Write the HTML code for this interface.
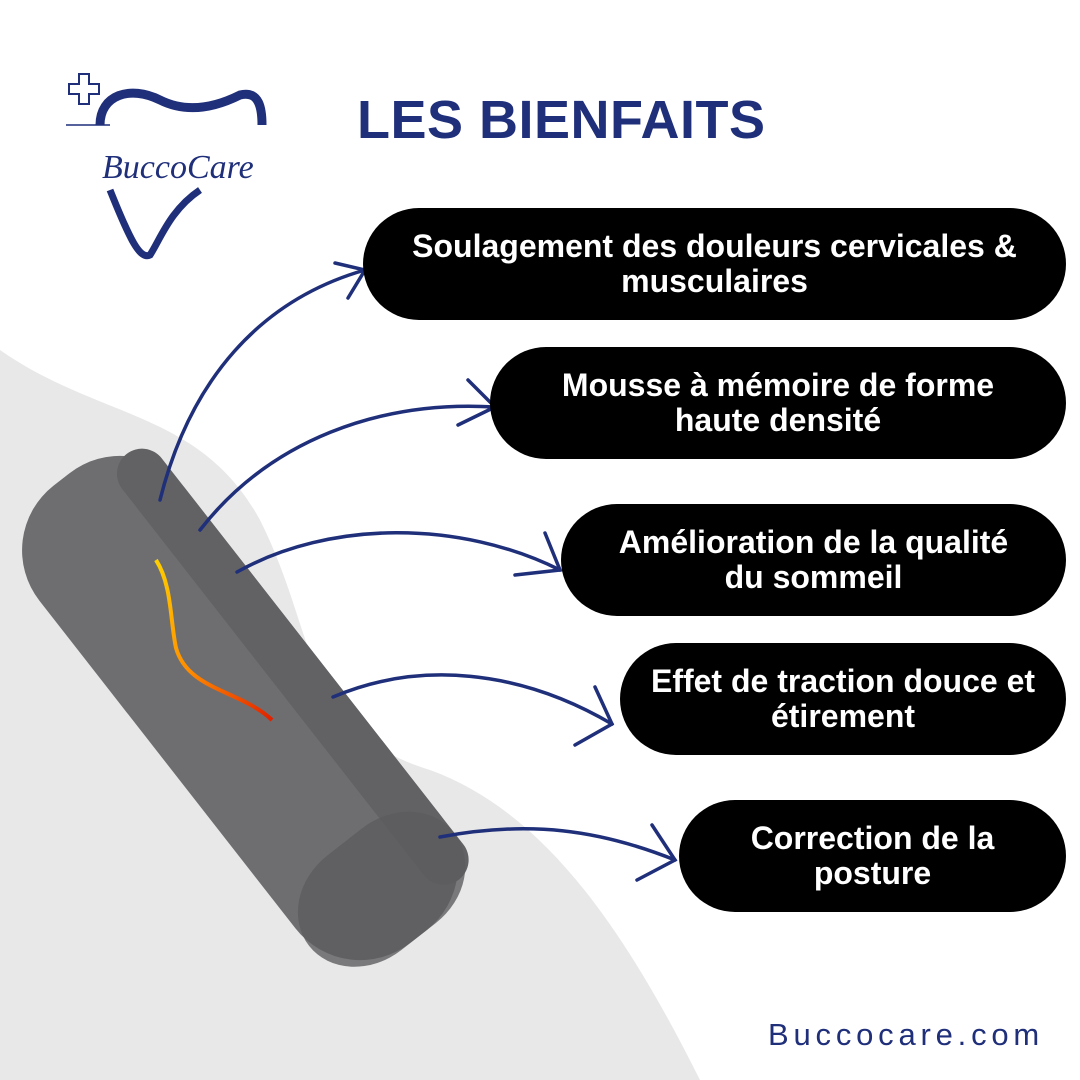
<!DOCTYPE html>
<html><head><meta charset="utf-8"><style>
body{margin:0;width:1080px;height:1080px;overflow:hidden;background:#fff;font-family:"Liberation Sans",sans-serif;position:relative}
.pill{position:absolute;background:#000;color:#fff;border-radius:56px;height:112px;display:flex;align-items:center;justify-content:center;text-align:center;font-weight:bold;font-size:32px;line-height:35px}
</style></head><body>
<svg width="1080" height="1080" style="position:absolute;left:0;top:0">
<defs><linearGradient id="og" x1="0" y1="0" x2="1" y2="1"><stop offset="0" stop-color="#ffd000"/><stop offset="0.5" stop-color="#ff8a00"/><stop offset="1" stop-color="#e02000"/></linearGradient></defs>
<path d="M0,350 C100,420 200,410 260,520 C320,640 300,730 430,770 C540,810 620,920 700,1080 L0,1080 Z" fill="#e8e8e8"/>
<g transform="translate(240,708) rotate(52)">
<rect x="-290" y="-92" width="580" height="184" rx="82" fill="#6e6e71"/>
<rect x="-270" y="-92" width="540" height="50" rx="25" fill="#626265"/>
<rect x="170" y="-92" width="120" height="184" rx="70" fill="#5c5c5f" opacity="0.8"/>
</g>
<path d="M156,560 C172,585 170,620 176,648 C188,690 240,690 272,720" stroke="url(#og)" stroke-width="4" fill="none"/>
<g stroke="#1f2f7a" stroke-width="3.5" fill="none" stroke-linecap="round">
<path d="M160,500 C190,380 260,300 365,270"/><path d="M335,263 L365,270 L348,298"/>
<path d="M200,530 C270,440 380,400 495,407"/><path d="M468,380 L495,407 L458,425"/>
<path d="M237,572 C330,520 460,520 560,570"/><path d="M545,533 L560,570 L515,575"/>
<path d="M333,697 C420,660 520,670 612,724"/><path d="M595,687 L612,724 L575,745"/>
<path d="M440,837 C530,820 600,830 675,860"/><path d="M652,825 L675,860 L637,880"/>
</g>
<g stroke="#1f2f7a" fill="none">
<path d="M87,72 L97,72 L97,82 L107,82 L107,92 L97,92 L97,102 L87,102 L87,92 L77,92 L77,82 L87,82 Z" stroke-width="2" transform="translate(-8,2)"/>
<path d="M66,125 L110,125" stroke-width="1.5"/>
<path d="M100,125 C100,95 130,85 160,100 C190,115 220,105 240,95 C260,90 262,110 262,125" stroke-width="9"/>
<path d="M110,190 C130,240 140,260 150,255 C160,240 170,210 200,190" stroke-width="7"/>
</g>
<text x="102" y="178" font-family="Liberation Serif,serif" font-style="italic" font-size="34" fill="#1f2f7a">BuccoCare</text>
</svg>
<div style="position:absolute;left:357px;top:89px;font-size:54px;font-weight:bold;color:#1f2f7a;letter-spacing:0.5px">LES BIENFAITS</div>
<div class="pill" style="left:363px;top:208px;width:703px">Soulagement des douleurs cervicales &amp;<br>musculaires</div>
<div class="pill" style="left:490px;top:347px;width:576px">Mousse à mémoire de forme<br>haute densité</div>
<div class="pill" style="left:561px;top:504px;width:505px">Amélioration de la qualité<br>du sommeil</div>
<div class="pill" style="left:620px;top:643px;width:446px">Effet de traction douce et<br>étirement</div>
<div class="pill" style="left:679px;top:800px;width:387px">Correction de la<br>posture</div>
<div style="position:absolute;left:768px;top:1017px;font-size:31px;color:#1f2f7a;letter-spacing:4.8px">Buccocare.com</div>
</body></html>
